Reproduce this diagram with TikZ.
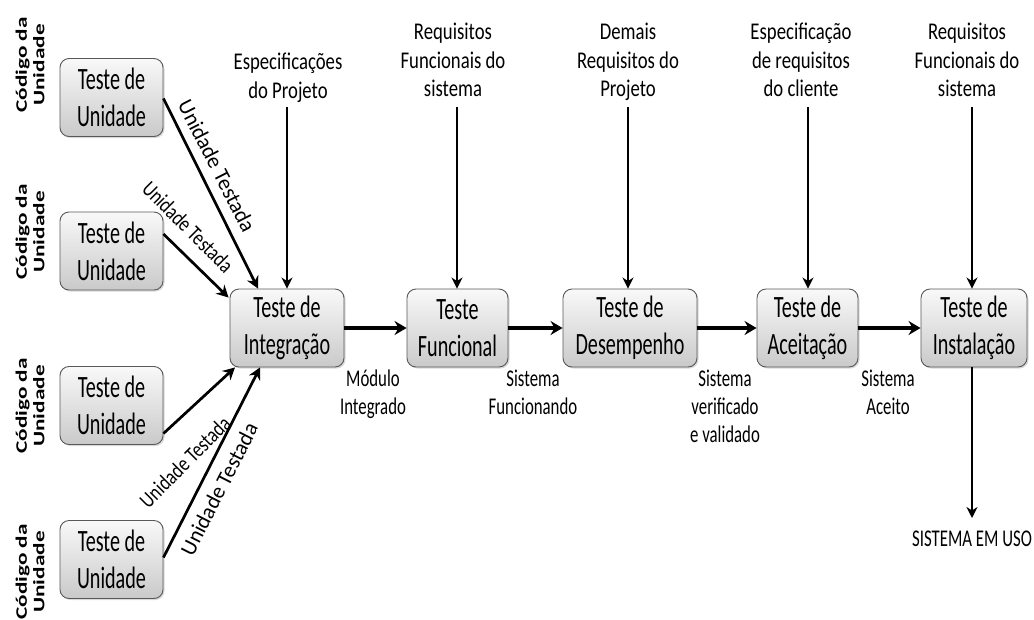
\documentclass[tikz,border=0pt]{standalone}
\usepackage{fontspec}
\usepackage{graphicx}
\setmainfont{Carlito}[FakeStretch=0.65]
\newfontfamily\toplbl{Carlito}[FakeStretch=0.78]
\newfontfamily\botlbl{Carlito}[FakeStretch=0.7]
\newfontfamily\diagA{Carlito}[FakeStretch=0.8]
\newfontfamily\diagB{Carlito}[FakeStretch=0.98]
\newfontfamily\codfont{Carlito}
\newcommand{\codline}[1]{\scalebox{1.45}[1]{#1}}
\usetikzlibrary{arrows.meta,shadows,calc}
\begin{document}
\begin{tikzpicture}[x=1pt,y=-1pt,
  box/.style={draw=black!65, line width=0.9pt, rounded corners=9pt,
    top color=gray!5, bottom color=gray!42, minimum height=78pt,
    inner sep=0pt, align=center, font=\fontsize{31}{37}\selectfont,
    drop shadow={opacity=0.3, shadow xshift=1.5pt, shadow yshift=-1.5pt}},
  toplabel/.style={anchor=north, inner sep=0pt, align=center, font=\toplbl\fontsize{24}{28.5}\selectfont},
  botlabel/.style={anchor=north, inner sep=0pt, align=center, font=\botlbl\fontsize{24}{28}\selectfont},
  difflabelA/.style={inner sep=0pt, font=\diagA\fontsize{22}{26}\selectfont},
  difflabelB/.style={inner sep=0pt, font=\diagB\fontsize{22}{26}\selectfont},
  codlabel/.style={inner sep=0pt, align=center, rotate=90, font=\codfont\bfseries\fontsize{16}{17.5}\selectfont},
  flow/.style={line width=3.4pt, -{Stealth[length=12pt,width=14pt,inset=4pt]}},
  diag/.style={line width=2.7pt, -{Stealth[length=12pt,width=12.5pt,inset=4pt]}},
  inarrow/.style={line width=2.1pt, -{Stealth[length=11pt,width=11pt,inset=3.5pt]}}
]
\useasboundingbox (0,0) rectangle (1034,619);

% unit test boxes
\node[box, minimum width=103pt] (u1) at (111.5,97.5) {Teste de\\Unidade};
\node[box, minimum width=103pt] (u2) at (111.5,251) {Teste de\\Unidade};
\node[box, minimum width=103pt] (u3) at (111.5,405.5) {Teste de\\Unidade};
\node[box, minimum width=103pt] (u4) at (111.5,559.5) {Teste de\\Unidade};

% main chain
\node[box, minimum width=114pt] (int) at (287,328) {Teste de\\Integração};
\node[box, minimum width=101pt] (fun) at (457.5,328) {Teste\\Funcional};
\node[box, minimum width=134pt] (des) at (630,328) {Teste de\\Desempenho};
\node[box, minimum width=101pt] (ace) at (807.5,328) {Teste de\\Aceitação};
\node[box, minimum width=106pt] (ins) at (974,328) {Teste de\\Instalação};

% left rotated labels
\node[codlabel] (c1) at (30,65) {\codline{Código da}\\\codline{Unidade}};
\node[codlabel] (c2) at (30,232) {\codline{Código da}\\\codline{Unidade}};
\node[codlabel] (c3) at (30,406) {\codline{Código da}\\\codline{Unidade}};
\node[codlabel] (c4) at (30,572) {\codline{Código da}\\\codline{Unidade}};

% top labels
\node[toplabel] (t1) at (288,53) {Especificações\\do Projeto};
\node[toplabel] (t2) at (453,23) {Requisitos\\Funcionais do\\sistema};
\node[toplabel] (t3) at (628,23) {Demais\\Requisitos do\\Projeto};
\node[toplabel] (t4) at (801,23) {Especificação\\de requisitos\\do cliente};
\node[toplabel] (t5) at (967,23) {Requisitos\\Funcionais do\\sistema};

% top input arrows
\coordinate (s1) at (287,107);
\coordinate (s2) at (457,107);
\coordinate (s3) at (628,107);
\coordinate (s4) at (808,107);
\coordinate (s5) at (972,107);
\draw[inarrow] (s1) -- (s1 |- int.north);
\draw[inarrow] (s2) -- (s2 |- fun.north);
\draw[inarrow] (s3) -- (s3 |- des.north);
\draw[inarrow] (s4) -- (s4 |- ace.north);
\draw[inarrow] (s5) -- (s5 |- ins.north);

% chain arrows
\draw[flow] (int.east) -- (fun.west);
\draw[flow] (fun.east) -- (des.west);
\draw[flow] (des.east) -- (ace.west);
\draw[flow] (ace.east) -- (ins.west);

% bottom labels
\node[botlabel] (b1) at (373,370) {Módulo\\Integrado};
\node[botlabel] (b2) at (533,370) {Sistema\\Funcionando};
\node[botlabel] (b3) at (725,370) {Sistema\\verificado\\e validado};
\node[botlabel] (b4) at (888,370) {Sistema\\Aceito};

% output
\coordinate (uso) at (972,518);
\draw[inarrow] (ins.south -| uso) -- (uso);
\node[anchor=north, inner sep=0pt, font=\botlbl\fontsize{24}{28}\selectfont] (usolbl) at ($(uso)+(0,13)$) {SISTEMA EM USO};

% diagonal arrows
\draw[diag] ($(u1.east)+(0,1)$) -- ($(int.north)+(-29,0)$);
\draw[diag] ($(u2.east)+(0,-17)$) -- ($(int.north west)+(-1,9)$);
\draw[diag] ($(u3.east)+(0,28)$) -- ($(int.south)+(-52,0)$);
\draw[diag] ($(u4.east)+(0,-2)$) -- ($(int.south)+(-27,0)$);

\node[difflabelB, rotate=-63] (d1) at (217,166) {Unidade Testada};
\node[difflabelA, rotate=-45] (d2) at (188,227) {Unidade Testada};
\node[difflabelA, rotate=45] (d3) at (185,462) {Unidade Testada};
\node[difflabelB, rotate=63] (d4) at (219,489) {Unidade Testada};
\end{tikzpicture}
\end{document}
